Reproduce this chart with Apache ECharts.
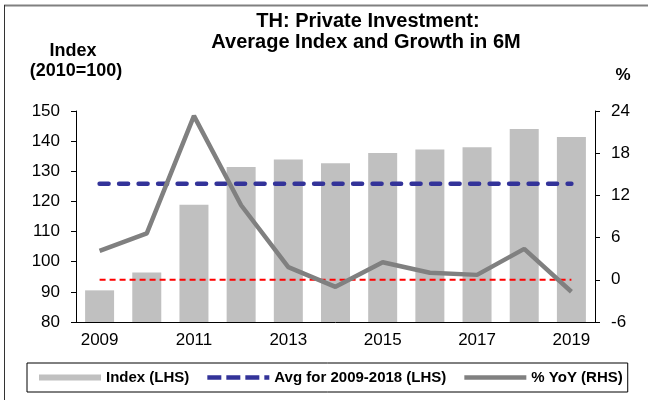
<!DOCTYPE html>
<html>
<head>
<meta charset="utf-8">
<script src="https://cdn.jsdelivr.net/npm/echarts@6/dist/echarts.min.js"></script>
<style>
  html, body { margin: 0; padding: 0; background: #fff; }
  #main { width: 648px; height: 400px; }
</style>
</head>
<body>
<div id="main"></div>
<script>
// data
var years = ['2009', '2010', '2011', '2012', '2013', '2014', '2015', '2016', '2017', '2018', '2019'];
var indexValues = [90.5, 96.4, 118.9, 131.4, 133.9, 132.7, 136.1, 137.2, 138.0, 144.0, 141.4];
var avgValues = [125.9, 125.9, 125.9, 125.9, 125.9, 125.9, 125.9, 125.9, 125.9, 125.9, 125.9];
var yoyValues = [4.1, 6.6, 23.3, 10.6, 1.8, -1.0, 2.5, 1.0, 0.7, 4.4, -1.7];
var zeroValues = [0, 0, 0, 0, 0, 0, 0, 0, 0, 0, 0];
var leftTicks = { min: 80, max: 150, step: 10 };
var rightTicks = { min: -6, max: 24, step: 6 };

var font = 'Liberation Sans, Arial, sans-serif';
var myChart = echarts.init(document.getElementById('main'));

// legend icons (dashed + solid thick line)
var dashIcon = 'path://M0,0h14v4.5h-14z M19,0h14v4.5h-14z M38,0h14v4.5h-14z M57,0h5v4.5h-5z';
var solidIcon = 'path://M0,0h62v4.5h-62z';

var option = {
    animation: false,
    backgroundColor: '#fff',
    textStyle: { fontFamily: font },
    graphic: [
        { type: 'line', shape: { x1: 4, y1: 5.5, x2: 648, y2: 5.5 }, style: { stroke: '#808080', lineWidth: 2 } },
        { type: 'line', shape: { x1: 4.5, y1: 5, x2: 4.5, y2: 400 }, style: { stroke: '#333', lineWidth: 1 } },
        { type: 'text', x: 368, y: 21, style: { text: 'TH: Private Investment:', font: 'bold 20px ' + font, fill: '#000', textAlign: 'center', textVerticalAlign: 'middle' } },
        { type: 'text', x: 366, y: 42, style: { text: 'Average Index and Growth in 6M', font: 'bold 20px ' + font, fill: '#000', textAlign: 'center', textVerticalAlign: 'middle' } },
        { type: 'text', x: 73, y: 51, style: { text: 'Index', font: 'bold 18px ' + font, fill: '#000', textAlign: 'center', textVerticalAlign: 'middle' } },
        { type: 'text', x: 76, y: 71, style: { text: '(2010=100)', font: 'bold 18px ' + font, fill: '#000', textAlign: 'center', textVerticalAlign: 'middle' } },
        { type: 'text', x: 623, y: 75, style: { text: '%', font: 'bold 17px ' + font, fill: '#000', textAlign: 'center', textVerticalAlign: 'middle' } }
    ],
    grid: { left: 76, right: 53, top: 111, bottom: 78, containLabel: false },
    legend: {
        left: 27,
        top: 363,
        padding: [7, 5, 7, 12],
        borderColor: '#000',
        borderWidth: 1,
        itemGap: 18,
        itemWidth: 62,
        itemHeight: 6,
        textStyle: { fontFamily: font, fontSize: 15, fontWeight: 'bold', color: '#000' },
        data: [
            { name: 'Index (LHS)', icon: 'rect' },
            { name: 'Avg for 2009-2018 (LHS)', icon: dashIcon },
            { name: '% YoY (RHS)', icon: solidIcon }
        ]
    },
    xAxis: {
        type: 'category',
        data: years,
        boundaryGap: true,
        axisLine: { onZero: false, lineStyle: { color: '#000', width: 1 } },
        axisTick: { interval: 0, length: 5, lineStyle: { color: '#000' } },
        axisLabel: { interval: 1, margin: 10, fontSize: 17, color: '#000', fontFamily: font },
        splitLine: { show: false }
    },
    yAxis: [
        {
            type: 'value',
            min: leftTicks.min,
            max: leftTicks.max,
            interval: leftTicks.step,
            axisLine: { show: true, lineStyle: { color: '#000', width: 1 } },
            axisTick: { show: true, length: 5, lineStyle: { color: '#000' } },
            axisLabel: { margin: 16, fontSize: 17, color: '#000', fontFamily: font },
            splitLine: { show: false }
        },
        {
            type: 'value',
            min: rightTicks.min,
            max: rightTicks.max,
            interval: rightTicks.step,
            position: 'right',
            axisLine: { show: true, lineStyle: { color: '#000', width: 1 } },
            axisTick: { show: true, length: 5, lineStyle: { color: '#000' } },
            axisLabel: { margin: 16, fontSize: 17, color: '#000', fontFamily: font },
            splitLine: { show: false }
        }
    ],
    series: [
        {
            name: 'Index (LHS)',
            type: 'bar',
            yAxisIndex: 0,
            barWidth: 29,
            itemStyle: { color: '#C0C0C0' },
            data: indexValues
        },
        {
            name: 'Avg for 2009-2018 (LHS)',
            type: 'line',
            yAxisIndex: 0,
            symbol: 'none',
            lineStyle: { color: '#333399', width: 4.5, type: [9, 10.5], cap: 'round' },
            itemStyle: { color: '#333399' },
            data: avgValues
        },
        {
            name: 'zero',
            type: 'line',
            yAxisIndex: 1,
            symbol: 'none',
            lineStyle: { color: '#FF0000', width: 2, type: [6, 4] },
            itemStyle: { color: '#FF0000' },
            data: zeroValues
        },
        {
            name: '% YoY (RHS)',
            type: 'line',
            yAxisIndex: 1,
            symbol: 'none',
            lineStyle: { color: '#808080', width: 4.5 },
            itemStyle: { color: '#808080' },
            data: yoyValues
        }
    ]
};
myChart.setOption(option);
</script>
</body>
</html>
